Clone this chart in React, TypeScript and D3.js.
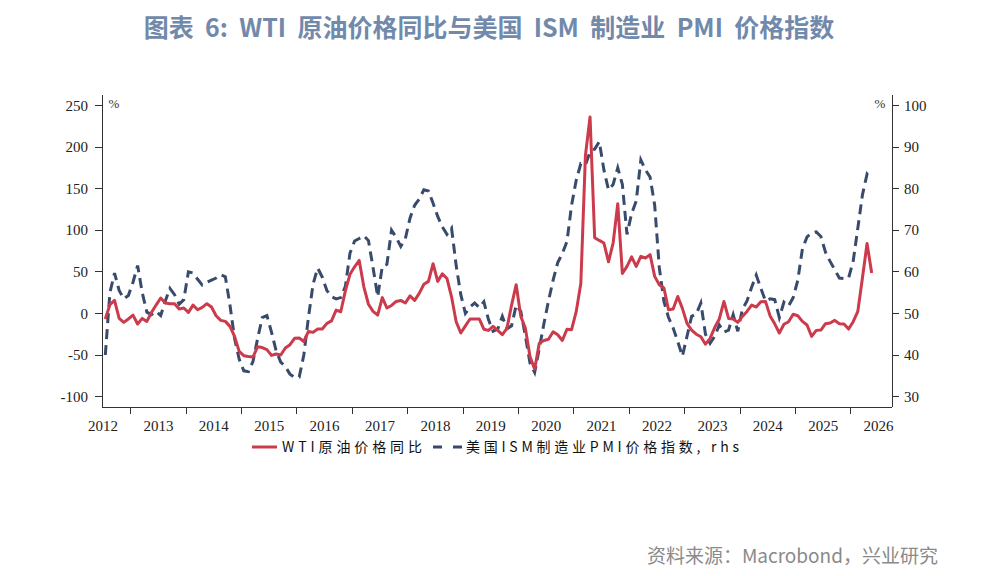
import React from "react";
import * as d3 from "d3";

const W = 989;
const H = 576;

// Monthly series, first observation July 2012
const START_YEAR = 2012;
const START_MONTH = 7;

// WTI crude oil price, year-over-year %, left axis
const wtiYoY = [
  -6.7, 10.5, 15.6, -6, -10.8, -6.7,
  -2, -12.8, -6, -9.6, 1, 10, 18.5, 12.5, 11.7, 11.7, 5.3, 6.5,
  1.2, 10, 4.4, 7.2, 11.7, 7.7, -2.8, -8.4, -9.6, -15.6, -27.6, -45.7,
  -50.8, -51.7, -52.4, -40, -41, -43.5, -50.5, -48.8, -50, -41.6, -37.6, -30,
  -29.6, -33.7, -21.6, -22.8, -18.8, -18.8, -12, -9, 4, 2, 27, 47,
  56, 63.7, 32, 11, 2.4, -2, 19, 6.5, 9.5, 14.4, 15.6, 12.5,
  21, 15.6, 24, 35, 38.5, 59.7, 38.5, 47.7, 42, 20, -10, -23.6,
  -15, -6.7, -6.7, -6.7, -19, -20.4, -15.6, -20.4, -25.6, -18, 10, 34.5,
  -3.6, -18, -52, -67, -36, -32.5, -31, -22, -25.6, -32.5, -19, -19.6,
  2, 36, 190, 236, 91, 87.7, 84.6, 62, 84.6, 131.9, 48, 56.5,
  68, 56.5, 68.5, 66.6, 70.6, 44.5, 34.5, 30.5, 4.4, 5.3, 20.4, 6,
  -12, -20, -25, -28, -37, -30, -17, -6.7, 14.4, -6, -6.7, -10.8,
  -3.6, 2.4, 10, 7.7, 14, 14.4, -3, -12.5, -23.6, -13, -10, -1,
  -2.8, -9.6, -14, -27.6, -20.4, -20, -12.4, -11.5, -8.4, -12.4, -12.6, -18.8,
  -10, 2.4, 42.5, 84, 48.6,
];

// ISM manufacturing PMI prices index, right axis
const ismPrices = [
  40, 55, 59.7, 55.5, 53.5, 54.3,
  57.5, 61.5, 55, 50.3, 49.7, 50.5, 49.5, 53, 56, 54.5, 52.2, 53.3,
  60, 59.7, 58.2, 56.8, 57.5, 58, 58.5, 59.3, 58.8, 52, 44, 39,
  36.2, 36, 38.5, 44, 49, 49.5, 45.5, 41, 38.3, 37.2, 35.4, 34.6,
  34.7, 40, 49, 57, 60.9, 58.7, 55.5, 54, 53.5, 53.8, 56.5, 64.5,
  67.4, 68, 68.7, 67.5, 61, 54, 61.3, 61.8, 70, 68.3, 66.1, 68,
  72.9, 76, 77.5, 79.7, 79.4, 76.5, 73.3, 70.8, 69, 70.5, 61.5, 54.5,
  50, 51.5, 52.5, 51.4, 52.8, 48.5, 45.7, 46.2, 49.3, 46.3, 47, 52,
  50.5, 44.5, 38, 35.8, 41.5, 47.5, 53, 58, 62.2, 64.4, 67.3, 76,
  82, 86, 85.7, 88.8, 89.5, 91.3, 84.5, 79.7, 81, 85, 81, 69,
  74, 77, 86.9, 84.5, 82.8, 76, 61, 52.9, 49, 46.5, 43.2, 39.7,
  44.5, 49.3, 49.8, 52.5, 45, 42.8, 44.5, 47.2, 45.5, 46, 49.7, 45.7,
  51, 53, 56.3, 59.2, 56, 53, 53.5, 53.3, 49, 52.7, 51.8, 53.8,
  58, 65.5, 68.4, 69.3, 69.6, 68.5, 64.7, 62.5, 60.5, 58.5, 58.4, 58.5,
  62.6, 70.5, 78.5, 83.5, 82.3,
];

const leftTicks = [-100, -50, 0, 50, 100, 150, 200, 250];
const rightTicks = [30, 40, 50, 60, 70, 80, 90, 100];
const yearLabels = d3.range(2012, 2027);
const yearBoundaries = d3.range(2013, 2027);

const TITLE = "图表  6:  WTI  原油价格同比与美国  ISM  制造业  PMI  价格指数";
const LEGEND_WTI = "WTI原油价格同比";
const LEGEND_ISM = "美国ISM制造业PMI价格指数, rhs";
const SOURCE = "资料来源：Macrobond，兴业研究";

const RED = "#cc3b4c";
const NAVY = "#394b6c";
const AXIS = "#333333";

// mid-month position of the i-th observation, in fractional years
const monthPos = (i: number) => START_YEAR + (START_MONTH - 1 + i + 0.5) / 12;

export default function App() {
  const left = 102;
  const right = 892;
  const top = 95;
  const bottom = 407;

  const x = d3.scaleLinear().domain([2012.482, 2026.742]).range([left, right]);
  const yL = d3.scaleLinear().domain([-112.5, 262.5]).range([bottom, top]);
  const yR = d3.scaleLinear().domain([27.5, 102.5]).range([bottom, top]);

  const wtiLine = d3
    .line<number>()
    .x((_, i) => x(monthPos(i)))
    .y((d) => yL(d));
  const ismLine = d3
    .line<number>()
    .x((_, i) => x(monthPos(i)))
    .y((d) => yR(d));

  const tickFont = "'Liberation Serif', 'DejaVu Serif', serif";
  const cjkFont = "'Noto Sans CJK SC', 'Noto Sans', sans-serif";

  return (
    <svg
      width={W}
      height={H}
      viewBox={`0 0 ${W} ${H}`}
      style={{ position: "absolute", left: 0, top: 0, background: "#ffffff" }}
    >
      <rect width={W} height={H} fill="#ffffff" />

      <text
        x={489}
        y={37}
        textAnchor="middle"
        fontFamily={cjkFont}
        fontSize={25}
        fontWeight={700}
        fill="#7189ab"
        style={{ whiteSpace: "pre" }}
      >
        {TITLE}
      </text>

      {/* series */}
      <path d={ismLine(ismPrices) || ""} fill="none" stroke={NAVY} strokeWidth={3} strokeDasharray="10,6" />
      <path d={wtiLine(wtiYoY) || ""} fill="none" stroke={RED} strokeWidth={3} strokeLinejoin="round" />

      {/* axes frame */}
      <g stroke={AXIS} strokeWidth={1} shapeRendering="crispEdges">
        <line x1={left} x2={left} y1={top} y2={bottom} />
        <line x1={right} x2={right} y1={top} y2={bottom} />
        <line x1={left} x2={right} y1={bottom} y2={bottom} />
        {leftTicks.map((t) => (
          <line key={"lt" + t} x1={left - 7} x2={left} y1={yL(t)} y2={yL(t)} />
        ))}
        {rightTicks.map((t) => (
          <line key={"rt" + t} x1={right} x2={right + 7} y1={yR(t)} y2={yR(t)} />
        ))}
        {yearBoundaries.map((yv) => (
          <line key={"xt" + yv} x1={x(yv)} x2={x(yv)} y1={bottom} y2={bottom + 7} />
        ))}
      </g>

      <g fontFamily={tickFont} fontSize={15} fill="#222">
        {leftTicks.map((t) => (
          <text key={"ll" + t} x={88} y={yL(t)} dy="0.35em" textAnchor="end">
            {t}
          </text>
        ))}
        {rightTicks.map((t) => (
          <text key={"rl" + t} x={904} y={yR(t)} dy="0.35em" textAnchor="start">
            {t}
          </text>
        ))}
        {yearLabels.map((yv) => (
          <text key={"yl" + yv} x={x(yv + 0.5)} y={431} textAnchor="middle">
            {yv}
          </text>
        ))}
      </g>

      <g fontFamily={tickFont} fontSize={13} fill="#3a3320">
        <text x={114} y={108} textAnchor="middle">%</text>
        <text x={880} y={108} textAnchor="middle">%</text>
      </g>

      {/* legend */}
      <g>
        <line x1={252} x2={277} y1={447} y2={447} stroke={RED} strokeWidth={3} />
        <text
          x={282}
          y={452}
          fontFamily={cjkFont}
          fontSize={14}
          fill="#111"
          textLength={140}
          lengthAdjust="spacing"
        >
          {LEGEND_WTI}
        </text>
        <line x1={433} x2={462} y1={447} y2={447} stroke={NAVY} strokeWidth={3} strokeDasharray="9,11" />
        <text
          x={466}
          y={452}
          fontFamily={cjkFont}
          fontSize={14}
          fill="#111"
          textLength={273}
          lengthAdjust="spacing"
        >
          {LEGEND_ISM}
        </text>
      </g>

      <text
        x={938}
        y={563}
        textAnchor="end"
        fontFamily={cjkFont}
        fontSize={19}
        fill="#8a8a8a"
      >
        {SOURCE}
      </text>
    </svg>
  );
}
